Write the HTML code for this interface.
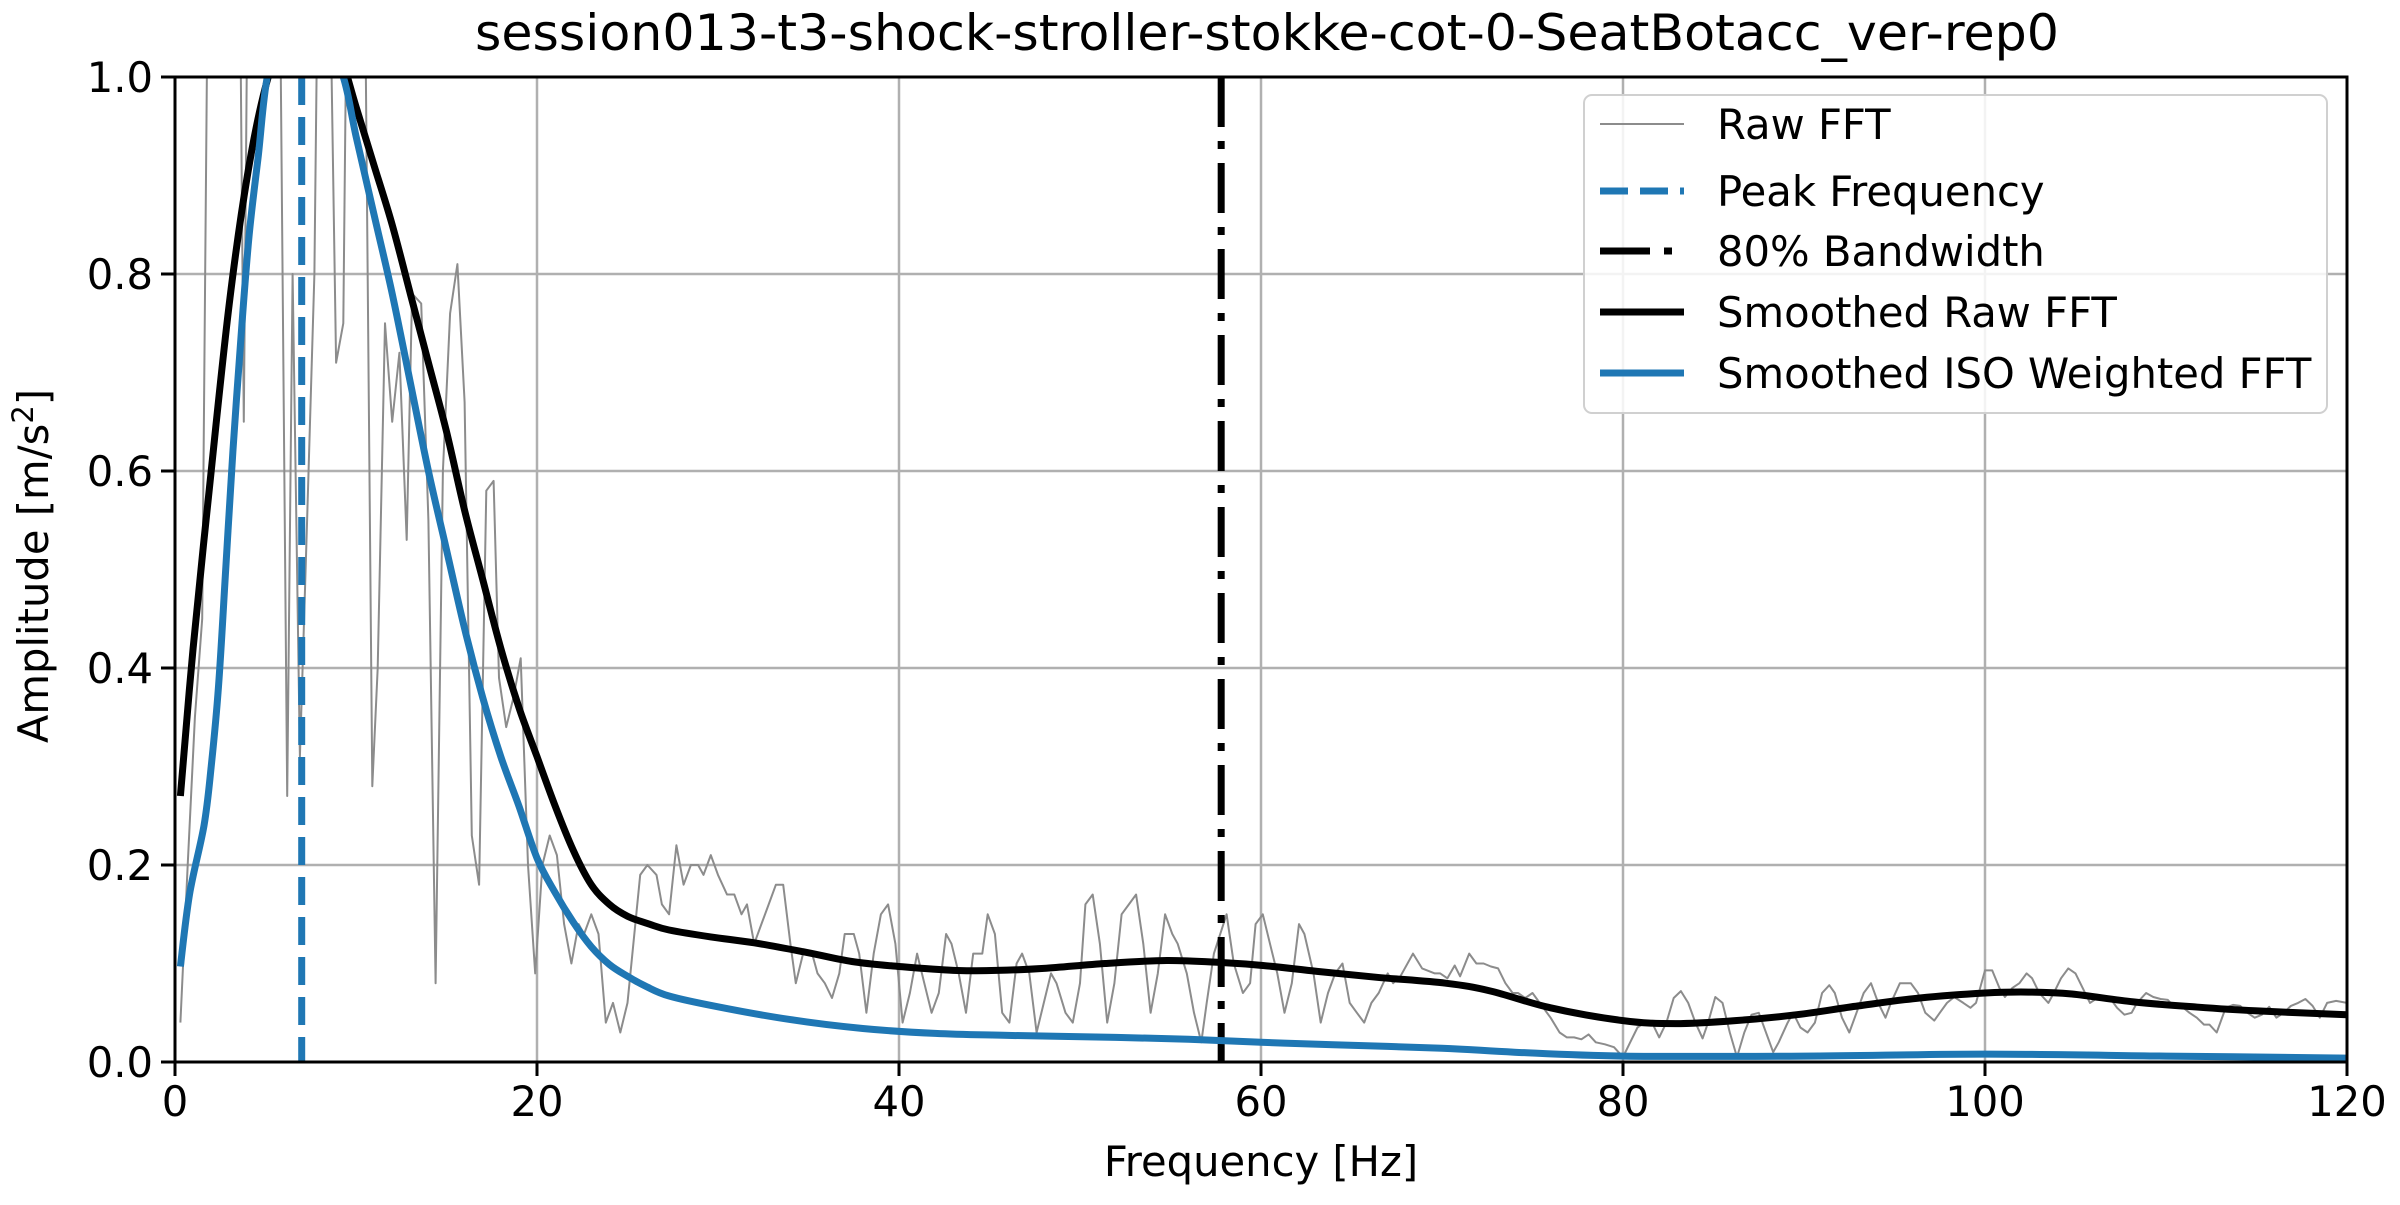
<!DOCTYPE html>
<html><head><meta charset="utf-8"><style>
html,body{margin:0;padding:0;background:#fff;}
svg text{font-family:"DejaVu Sans","Liberation Sans",sans-serif;fill:#000;}
</style></head><body>
<svg id="chart" width="2400" height="1200" viewBox="0 0 2400 1200" xmlns="http://www.w3.org/2000/svg">
<defs><clipPath id="plotclip"><rect x="175" y="77" width="2172" height="985"/></clipPath></defs>
<rect width="2400" height="1200" fill="#fff"/>
<text x="1267" y="50" font-size="50" text-anchor="middle" textLength="1584" lengthAdjust="spacingAndGlyphs">session013-t3-shock-stroller-stokke-cot-0-SeatBotacc_ver-rep0</text>
<g id="grid"></g>
<g id="series" clip-path="url(#plotclip)"></g>
<g id="axes"></g>
<text x="1261" y="1176" font-size="41.7" text-anchor="middle">Frequency [Hz]</text>
<text x="0" y="0" font-size="41.7" text-anchor="middle" transform="translate(48,566) rotate(-90)">Amplitude [m/s<tspan font-size="29" dy="-15">2</tspan><tspan dy="15">]</tspan></text>
<g id="legend">
<rect x="1584" y="95" width="743" height="318" rx="8" fill="#fff" fill-opacity="0.85" stroke="#d0d0d0" stroke-width="2"/>
<g><line x1="1600" y1="124" x2="1684" y2="124" stroke="#8c8c8c" stroke-width="2"/><text x="1717" y="139" font-size="41.7">Raw FFT</text></g>
<g><line x1="1600" y1="191" x2="1684" y2="191" stroke="#1f77b4" stroke-width="7" stroke-dasharray="28,12"/><text x="1717" y="206" font-size="41.7">Peak Frequency</text></g>
<g><line x1="1600" y1="251" x2="1684" y2="251" stroke="#000" stroke-width="7" stroke-dasharray="50,14,8,14"/><text x="1717" y="266" font-size="41.7">80% Bandwidth</text></g>
<g><line x1="1600" y1="312" x2="1684" y2="312" stroke="#000" stroke-width="7"/><text x="1717" y="327" font-size="41.7">Smoothed Raw FFT</text></g>
<g><line x1="1600" y1="373" x2="1684" y2="373" stroke="#1f77b4" stroke-width="7"/><text x="1717" y="388" font-size="41.7">Smoothed ISO Weighted FFT</text></g>
</g>
</svg>
<script>
const xTicks=[0,20,40,60,80,100,120];
const yTicks=[0.0,0.2,0.4,0.6,0.8,1.0];
const yTickLabels=["0.0","0.2","0.4","0.6","0.8","1.0"];
const peakFreq=7.0;
const bandwidthFreq=57.8;
const rawFreq=[0.3,0.7,1.1,1.5,1.9,2.3,2.7,3.1,3.5,3.8,4.1,4.5,4.9,5.3,5.7,6.2,6.5,6.9,7.3,7.7,8.0,8.4,8.9,9.3,9.6,10.0,10.4,10.9,11.2,11.6,12.0,12.4,12.8,13.1,13.6,14.0,14.4,14.8,15.2,15.6,16.0,16.4,16.8,17.2,17.6,17.9,18.3,18.7,19.1,19.5,19.9,20.3,20.7,21.1,21.5,21.9,22.3,22.6,23.0,23.4,23.8,24.2,24.6,25.0,25.7,26.1,26.6,26.9,27.3,27.7,28.1,28.5,28.9,29.2,29.6,30.0,30.5,30.9,31.3,31.6,32.0,32.4,32.8,33.2,33.6,34.0,34.3,34.7,35.2,35.5,35.9,36.3,36.7,37.0,37.5,37.8,38.2,38.6,39.0,39.4,39.8,40.2,40.6,41.0,41.4,41.8,42.2,42.6,42.9,43.3,43.7,44.1,44.6,44.9,45.3,45.7,46.1,46.5,46.8,47.2,47.6,48.0,48.4,48.7,49.2,49.6,50.0,50.3,50.7,51.1,51.5,51.9,52.3,52.7,53.1,53.5,53.9,54.3,54.7,55.1,55.4,55.9,56.3,56.7,57.0,57.4,58.1,58.5,59.0,59.4,59.7,60.1,60.5,60.9,61.3,61.7,62.1,62.4,62.9,63.3,63.7,64.1,64.5,64.9,65.3,65.7,66.1,66.5,67.0,67.3,67.7,68.4,68.9,69.6,69.9,70.3,70.7,71.0,71.5,71.9,72.3,72.7,73.1,73.5,73.9,74.2,74.6,75.0,75.4,76.0,76.5,76.9,77.3,77.7,78.1,78.5,79.0,79.5,80.0,80.4,80.8,81.2,81.6,82.0,82.4,82.8,83.2,83.6,84.0,84.4,84.7,85.1,85.5,85.9,86.3,86.7,87.1,87.5,87.9,88.3,88.6,89.1,89.4,89.8,90.2,90.6,91.0,91.4,91.7,92.1,92.5,92.9,93.3,93.7,94.1,94.5,94.8,95.3,95.9,96.3,96.7,97.2,97.5,97.9,98.3,98.8,99.2,99.5,100.0,100.4,100.8,101.1,101.5,101.9,102.3,102.6,103.0,103.5,103.8,104.2,104.6,105.0,105.4,105.8,106.2,106.5,106.9,107.3,107.7,108.1,108.4,108.9,109.3,109.7,110.1,110.5,110.9,111.3,111.7,112.1,112.4,112.8,113.3,113.7,114.1,114.5,114.9,115.3,115.7,116.1,116.5,116.9,117.3,117.7,118.1,118.5,118.9,119.4,120.0];
const rawAmp=[0.04,0.2,0.35,0.45,1.3,1.3,1.3,1.3,1.3,0.65,1.3,1.3,1.3,1.3,1.3,0.27,0.8,0.31,0.55,0.8,1.3,1.3,0.71,0.75,1.3,1.3,1.3,0.28,0.4,0.75,0.65,0.72,0.53,0.78,0.77,0.55,0.08,0.6,0.76,0.81,0.67,0.23,0.18,0.58,0.59,0.39,0.34,0.37,0.41,0.2,0.09,0.2,0.23,0.21,0.14,0.1,0.14,0.13,0.15,0.13,0.04,0.06,0.03,0.06,0.19,0.2,0.19,0.16,0.15,0.22,0.18,0.2,0.2,0.19,0.21,0.19,0.17,0.17,0.15,0.16,0.12,0.14,0.16,0.18,0.18,0.12,0.08,0.11,0.11,0.09,0.08,0.065,0.09,0.13,0.13,0.11,0.05,0.11,0.15,0.16,0.12,0.04,0.07,0.11,0.08,0.05,0.07,0.13,0.12,0.09,0.05,0.11,0.11,0.15,0.13,0.05,0.04,0.1,0.11,0.09,0.03,0.06,0.09,0.08,0.05,0.04,0.08,0.16,0.17,0.12,0.04,0.08,0.15,0.16,0.17,0.12,0.05,0.09,0.15,0.13,0.12,0.09,0.05,0.02,0.06,0.11,0.15,0.1,0.07,0.08,0.14,0.15,0.12,0.09,0.05,0.08,0.14,0.13,0.09,0.04,0.07,0.09,0.1,0.06,0.05,0.04,0.06,0.07,0.09,0.08,0.087,0.11,0.095,0.09,0.09,0.085,0.098,0.087,0.11,0.1,0.1,0.097,0.095,0.08,0.07,0.07,0.065,0.07,0.06,0.045,0.03,0.025,0.025,0.023,0.028,0.02,0.018,0.015,0.005,0.02,0.035,0.04,0.04,0.025,0.04,0.065,0.072,0.06,0.04,0.024,0.04,0.066,0.06,0.03,0.005,0.03,0.048,0.05,0.03,0.01,0.02,0.04,0.05,0.035,0.03,0.04,0.07,0.078,0.07,0.045,0.03,0.05,0.07,0.08,0.06,0.045,0.06,0.08,0.08,0.07,0.05,0.042,0.05,0.06,0.066,0.06,0.055,0.06,0.093,0.093,0.075,0.066,0.075,0.08,0.09,0.085,0.07,0.06,0.07,0.085,0.095,0.09,0.075,0.06,0.065,0.066,0.065,0.055,0.048,0.05,0.06,0.07,0.066,0.064,0.063,0.055,0.056,0.05,0.045,0.038,0.038,0.03,0.055,0.058,0.057,0.05,0.045,0.048,0.056,0.045,0.05,0.057,0.06,0.064,0.057,0.045,0.06,0.062,0.06];
const smoothFreq=[0.3,1,2,3,4,5,6,7,8,9,10,11,12,13,14,15,16,17,18,19,20,21,22,23,24,25,26.2,27.3,29.6,32,34.7,37.4,40,43,45.4,48,51.4,54.8,57.8,60.1,63.1,66.4,70.2,72.7,76,80,82.9,86.2,89.6,93,96.4,100,102.4,104.8,108.2,111.5,114.9,120];
const smoothRawAmp=[0.27,0.42,0.6,0.77,0.9,0.99,1.04,1.06,1.06,1.03,0.97,0.91,0.85,0.78,0.71,0.64,0.56,0.49,0.42,0.36,0.31,0.26,0.215,0.18,0.16,0.148,0.14,0.134,0.127,0.121,0.112,0.102,0.097,0.093,0.093,0.095,0.1,0.103,0.101,0.098,0.092,0.086,0.08,0.072,0.055,0.042,0.039,0.042,0.048,0.057,0.065,0.07,0.071,0.069,0.061,0.056,0.052,0.048];
const smoothIsoFreq=[0.3,0.8,1.6,2,2.4,2.8,3.2,3.7,4.1,4.6,5.1,6,7,8,9.3,10,11,12,13,14,15,16,17,18,19,20,21,22,23,24,25,26,27.3,30,34,38,42,46,52,56,60,64,70,74,80,90,100,110,120];
const smoothIsoAmp=[0.097,0.17,0.24,0.3,0.38,0.5,0.62,0.75,0.84,0.92,1.0,1.05,1.07,1.06,1.0,0.94,0.86,0.78,0.69,0.6,0.52,0.44,0.37,0.31,0.26,0.207,0.172,0.142,0.117,0.099,0.087,0.077,0.067,0.056,0.043,0.034,0.029,0.027,0.025,0.023,0.02,0.0175,0.014,0.01,0.006,0.006,0.008,0.006,0.004];

const X0=175,X1=2347,Y0=1062,Y1=77;
const xs=f=>X0+(f-0)/(120-0)*(X1-X0);
const ys=v=>Y0-(v-0)/(1-0)*(Y0-Y1);
const NS="http://www.w3.org/2000/svg";
function mk(tag,attrs,parent){const e=document.createElementNS(NS,tag);for(const k in attrs)e.setAttribute(k,attrs[k]);parent.appendChild(e);return e;}
const grid=document.getElementById('grid'),axes=document.getElementById('axes'),series=document.getElementById('series');
xTicks.forEach(t=>{
  const g=mk('line',{x1:xs(t),x2:xs(t),y1:Y1,y2:Y0,stroke:'#b0b0b0','stroke-width':2.5},grid);
  
  
  const tk=mk('line',{x1:xs(t),x2:xs(t),y1:Y0,y2:Y0+14,stroke:'#000','stroke-width':3},axes);
  
  
  const tx=mk('text',{x:xs(t),y:Y0+54,'font-size':41.7,'text-anchor':'middle'},axes);
  tx.textContent=String(t);
  
  
});
yTicks.forEach((t,i)=>{
  const g=mk('line',{x1:X0,x2:X1,y1:ys(t),y2:ys(t),stroke:'#b0b0b0','stroke-width':2.5},grid);
  
  
  const tk=mk('line',{x1:X0-14,x2:X0,y1:ys(t),y2:ys(t),stroke:'#000','stroke-width':3},axes);
  
  
  const tx=mk('text',{x:X0-22,y:ys(t)+15,'font-size':41.7,'text-anchor':'end'},axes);
  tx.textContent=yTickLabels[i];
  
  
});
const frame=mk('rect',{x:X0,y:Y1,width:X1-X0,height:Y0-Y1,fill:'none',stroke:'#000','stroke-width':3},axes);


function pts(fa,va){return fa.map((f,i)=>xs(f).toFixed(1)+','+ys(va[i]).toFixed(1)).join(' ');}
function smoothPath(fa,va){
  const p=fa.map((f,i)=>[xs(f),ys(va[i])]);
  let d='M'+p[0][0].toFixed(1)+','+p[0][1].toFixed(1);
  for(let i=0;i<p.length-1;i++){
    const p0=p[Math.max(0,i-1)],p1=p[i],p2=p[i+1],p3=p[Math.min(p.length-1,i+2)];
    const c1=[p1[0]+(p2[0]-p0[0])/6,p1[1]+(p2[1]-p0[1])/6];
    const c2=[p2[0]-(p3[0]-p1[0])/6,p2[1]-(p3[1]-p1[1])/6];
    d+=' C'+c1[0].toFixed(1)+','+c1[1].toFixed(1)+' '+c2[0].toFixed(1)+','+c2[1].toFixed(1)+' '+p2[0].toFixed(1)+','+p2[1].toFixed(1);
  }
  return d;
}
const raw=mk('polyline',{points:pts(rawFreq,rawAmp),fill:'none',stroke:'#8c8c8c','stroke-width':2,'stroke-linejoin':'round'},series);


const pk=mk('line',{x1:xs(peakFreq),x2:xs(peakFreq),y1:Y1,y2:Y0,stroke:'#1f77b4','stroke-width':7,'stroke-dasharray':'28,12'},series);


const bw=mk('line',{x1:xs(bandwidthFreq),x2:xs(bandwidthFreq),y1:Y1,y2:Y0,stroke:'#000','stroke-width':7,'stroke-dasharray':'50,14,8,14'},series);


const sr=mk('path',{d:smoothPath(smoothFreq,smoothRawAmp),fill:'none',stroke:'#000','stroke-width':7,'stroke-linejoin':'round'},series);


const si=mk('path',{d:smoothPath(smoothIsoFreq,smoothIsoAmp),fill:'none',stroke:'#1f77b4','stroke-width':7,'stroke-linejoin':'round'},series);


</script>
</body></html>
